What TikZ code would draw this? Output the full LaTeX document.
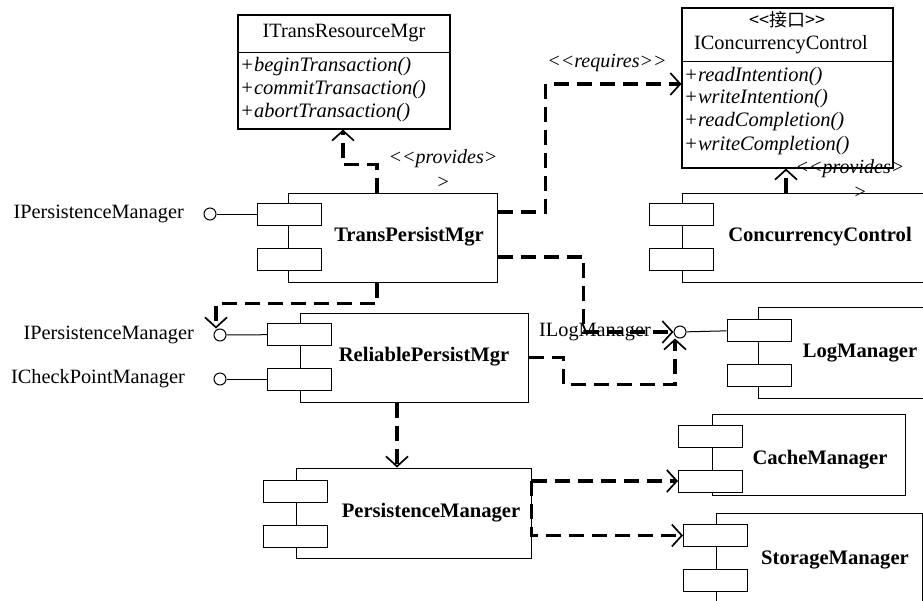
\documentclass[tikz,border=0pt]{standalone}
\usepackage{fontspec}
\setmainfont{Liberation Serif}
\newfontfamily\cjk{Noto Sans CJK SC}
\usetikzlibrary{arrows.meta}

\begin{document}
\begin{tikzpicture}[x=1pt,y=-1pt,
  comp/.style={draw, line width=1pt, inner sep=0pt},
  part/.style={draw, fill=white, line width=1pt, inner sep=0pt, minimum width=64pt, minimum height=22pt},
  port/.style={circle, draw, fill=white, line width=1pt, inner sep=0pt, minimum size=12pt},
  cls/.style={draw, line width=1.1pt, inner sep=0pt},
  dep/.style={line width=3.4pt, dash pattern=on 15pt off 8pt, -{Straight Barb[length=10pt,width=22pt,line width=1.7pt]}},
  plain/.style={line width=1pt},
  cname/.style={font=\fontsize{20.6}{24}\selectfont\bfseries, inner sep=0pt},
  iname/.style={font=\fontsize{20.3}{24}\selectfont, inner sep=0pt},
  meth/.style={font=\fontsize{20.5}{24}\selectfont\itshape, inner sep=0pt, anchor=west},
  stereo/.style={font=\fontsize{20}{25}\selectfont\itshape, inner sep=0pt, align=center},
]
\useasboundingbox (0,0) rectangle (923,600);
\clip (0,0) rectangle (923,600);

% ---------- interface classes ----------
\node[cls, minimum width=212pt, minimum height=114pt] (itr) at (344,72) {};
\draw[plain] (itr.west |- 0,52) -- (itr.east |- 0,52);
\node[iname] (itr-t) at (344,33) {ITransResourceMgr};
\node[meth] (itr-m1) at (240,67) {+beginTransaction()};
\node[meth] (itr-m2) at (240,90) {+commitTransaction()};
\node[meth] (itr-m3) at (240,113) {+abortTransaction()};

\node[cls, minimum width=211pt, minimum height=160pt] (icc) at (787.5,88) {};
\draw[plain] (icc.west |- 0,61) -- (icc.east |- 0,61);
\node[font=\fontsize{18}{22}\selectfont\cjk, inner sep=0pt] (icc-s) at (787,20) {<{}<接口>{}>};
\node[iname] (icc-t) at (781,45) {IConcurrencyControl};
\node[meth] (icc-m1) at (684,77) {+readIntention()};
\node[meth] (icc-m2) at (684,99) {+writeIntention()};
\node[meth] (icc-m3) at (684,122) {+readCompletion()};
\node[meth] (icc-m4) at (684,146) {+writeCompletion()};

% ---------- components ----------
% TransPersistMgr
\node[comp, minimum width=209pt, minimum height=89pt] (tpm) at (392.5,237.5) {};
\node[part] (tpm-a) at (289,214) {};
\node[part] (tpm-b) at (289,259.5) {};
\node[cname] (tpm-n) at (409,237) {TransPersistMgr};
\node[port] (tpm-i) at (210,214) {};
\draw[plain] (tpm-i) -- (tpm-a);
\node[iname, anchor=east] (tpm-il) at (184,214) {IPersistenceManager};

% ReliablePersistMgr
\node[comp, minimum width=228pt, minimum height=89pt] (rpm) at (414,357.5) {};
\node[part] (rpm-a) at (299.5,334.5) {};
\node[part] (rpm-b) at (299.5,379) {};
\node[cname] (rpm-n) at (424,357) {ReliablePersistMgr};
\node[port] (rpm-i) at (220,335) {};
\node[port] (rpm-j) at (220,379) {};
\draw[plain] (rpm-i) -- (rpm-a);
\draw[plain] (rpm-j) -- (rpm-b);
\node[iname, anchor=east] (rpm-il) at (194,335) {IPersistenceManager};
\node[iname, anchor=east] (rpm-jl) at (185,379) {ICheckPointManager};

% PersistenceManager
\node[comp, minimum width=235pt, minimum height=90pt] (pm) at (413.5,513) {};
\node[part] (pm-a) at (295.5,491) {};
\node[part] (pm-b) at (295.5,536) {};
\node[cname] (pm-n) at (431,513) {PersistenceManager};

% ConcurrencyControl
\node[comp, minimum width=253pt, minimum height=89pt] (cc) at (808.5,237.5) {};
\node[part] (cc-a) at (681.5,214) {};
\node[part] (cc-b) at (681.5,259) {};
\node[cname] (cc-n) at (820,237) {ConcurrencyControl};

% LogManager
\node[comp, minimum width=177pt, minimum height=91pt] (lm) at (846.5,352.5) {};
\node[part] (lm-a) at (759,330) {};
\node[part] (lm-b) at (759,375) {};
\node[cname] (lm-n) at (860,353) {LogManager};
\node[port] (lm-i) at (680,332) {};
\draw[plain] (lm-i) -- (lm-a);
\node[iname] (lm-il) at (595,332) {ILogManager};

% CacheManager
\node[comp, minimum width=193pt, minimum height=81pt] (cm) at (808.5,454.5) {};
\node[part] (cm-a) at (710.5,436) {};
\node[part] (cm-b) at (710.5,481) {};
\node[cname] (cm-n) at (820,460) {CacheManager};

% StorageManager
\node[comp, minimum width=206pt, minimum height=99pt] (sm) at (819,562.5) {};
\node[part] (sm-a) at (715.5,535.5) {};
\node[part] (sm-b) at (715.5,580.5) {};
\node[cname] (sm-n) at (835,560) {StorageManager};

% ---------- dependencies ----------
\draw[dep] ([xshift=-15.5pt]tpm.north) -- ++(0,-28) -| ([xshift=-1pt]itr.south);
\node[stereo] (tpm-pr) at (443,169) {<{}<provides>\\>};

\draw[dep] ([xshift=-22.5pt]cc.north) -- ([xshift=-22.5pt]cc.north |- icc.south);
\node[stereo] (cc-pr) at (850,179) {<{}<provides>\\\hspace*{20pt}>};

\draw[dep] ([yshift=25.5pt]tpm.east) -- ++(48,0) |- ([yshift=4pt]icc.west);
\node[stereo] (tpm-rq) at (607,63) {<{}<requires>{}>};

\draw[dep] ([yshift=-19.5pt]tpm.east) -- ++(86,0) |- (lm-i.west);
\draw[dep] (rpm.east) -- ++(35,0) -- ++(0,27) -| ([xshift=-5pt]lm-i.south);

\draw[dep] ([xshift=-15.5pt]tpm.south) -- ++(0,21) -| ([xshift=-4pt]rpm-i.north);

\draw[dep] ([xshift=-17pt]rpm.south) -- ([xshift=-17pt]rpm.south |- pm.north);

\draw[dep] (pm.east |- cm-b.west) -- (cm-b.west);
\draw[dep] (pm.east |- cm-b.west) -- (pm.east |- sm-a.west) -- (sm-a.west);
\end{tikzpicture}
\end{document}
